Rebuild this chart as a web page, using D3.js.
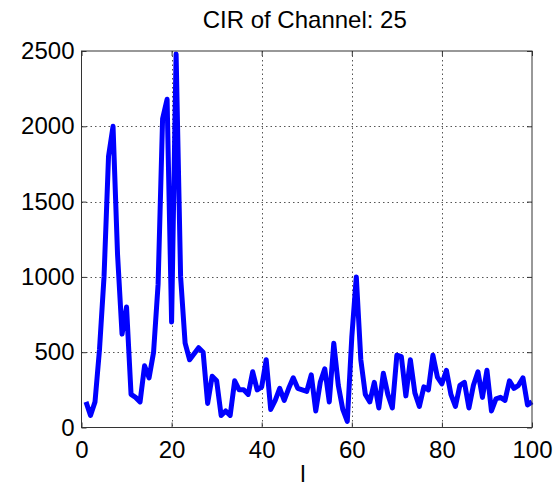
<!DOCTYPE html>
<html>
<head>
<meta charset="utf-8">
<script src="https://cdn.jsdelivr.net/npm/d3@7/dist/d3.min.js"></script>
<style>
  html, body { margin: 0; padding: 0; background: #fff; }
  svg { display: block; }
  text { font-family: "Liberation Sans", Arial, Helvetica, sans-serif; fill: #000; }
</style>
</head>
<body>
<svg id="chart" width="556" height="489"></svg>
<script>
// Channel impulse response magnitude, one value per tap index l = 1..100
const taps = d3.range(1, 101);
const cirValues = [
  170, 80, 170, 520, 1000, 1800, 2000, 1150, 620, 800,
  220, 200, 170, 410, 330, 500, 950, 2050, 2180, 700,
  2480, 1000, 560, 450, 490, 530, 500, 160, 340, 310,
  80, 110, 80, 310, 250, 250, 220, 370, 250, 270,
  450, 120, 180, 260, 180, 260, 330, 260, 250, 240,
  350, 110, 300, 390, 170, 560, 280, 120, 40, 600,
  1000, 450, 220, 170, 300, 130, 360, 220, 130, 480,
  470, 210, 450, 230, 140, 270, 250, 480, 335, 290,
  380, 220, 140, 280, 300, 130, 280, 370, 200, 380,
  110, 190, 200, 180, 310, 260, 280, 330, 150, 170
];
const xTicks = [0, 20, 40, 60, 80, 100];
const yTicks = [0, 500, 1000, 1500, 2000, 2500];
const chartTitle = "CIR of Channel: 25";
const xLabel = "l";

const svg = d3.select("#chart");
const box = { left: 81.5, right: 532, top: 51, bottom: 427.5 };

const x = d3.scaleLinear().domain([0, 100]).range([box.left, box.right]);
const y = d3.scaleLinear().domain([0, 2500]).range([box.bottom, box.top]);

svg.append("rect").attr("width", 556).attr("height", 489).attr("fill", "#fff");

// dotted grid at the inner ticks
const grid = svg.append("g")
  .attr("stroke", "#555").attr("stroke-width", 1)
  .attr("stroke-dasharray", "1.5,3");
grid.selectAll("line.gx").data(xTicks.slice(1, -1)).join("line")
  .attr("x1", d => Math.round(x(d)) + 0.5).attr("x2", d => Math.round(x(d)) + 0.5)
  .attr("y1", box.top).attr("y2", box.bottom);
grid.selectAll("line.gy").data(yTicks.slice(1, -1)).join("line")
  .attr("x1", box.left).attr("x2", box.right)
  .attr("y1", d => Math.round(y(d)) + 0.5).attr("y2", d => Math.round(y(d)) + 0.5);

// response curve
const line = d3.line().x((d, i) => x(taps[i])).y(d => y(d));
svg.append("path")
  .datum(cirValues)
  .attr("fill", "none")
  .attr("stroke", "#0000ff")
  .attr("stroke-width", 5)
  .attr("stroke-linejoin", "round")
  .attr("d", line);

// axes with inward ticks on all four sides
const fontSize = 24;
const tickLen = 5;
const styleAxis = g => {
  g.select(".domain").remove();
  g.selectAll(".tick line").attr("stroke", "#333");
  g.selectAll(".tick text").style("font-size", fontSize + "px").attr("fill", "#000");
};

svg.append("g")
  .attr("transform", `translate(0,${box.bottom})`)
  .call(d3.axisBottom(x).tickValues(xTicks).tickSize(-tickLen).tickPadding(13).tickFormat(d3.format("d")))
  .call(styleAxis);
svg.append("g")
  .attr("transform", `translate(0,${box.top})`)
  .call(d3.axisTop(x).tickValues(xTicks).tickSize(-tickLen).tickFormat(""))
  .call(styleAxis);
svg.append("g")
  .attr("transform", `translate(${box.left},0)`)
  .call(d3.axisLeft(y).tickValues(yTicks).tickSize(-tickLen).tickPadding(7).tickFormat(d3.format("d")))
  .call(styleAxis);
svg.append("g")
  .attr("transform", `translate(${box.right},0)`)
  .call(d3.axisRight(y).tickValues(yTicks).tickSize(-tickLen).tickFormat(""))
  .call(styleAxis);

// plot box
svg.append("rect")
  .attr("x", box.left).attr("y", box.top)
  .attr("width", box.right - box.left).attr("height", box.bottom - box.top)
  .attr("fill", "none").attr("stroke", "#333").attr("stroke-width", 1);

svg.append("text")
  .attr("x", (box.left + box.right) / 2 - 2).attr("y", 28)
  .attr("text-anchor", "middle")
  .style("font-size", fontSize + "px")
  .text(chartTitle);

svg.append("text")
  .attr("x", 303).attr("y", 482)
  .attr("text-anchor", "middle")
  .style("font-size", fontSize + "px")
  .text(xLabel);
</script>
</body>
</html>
